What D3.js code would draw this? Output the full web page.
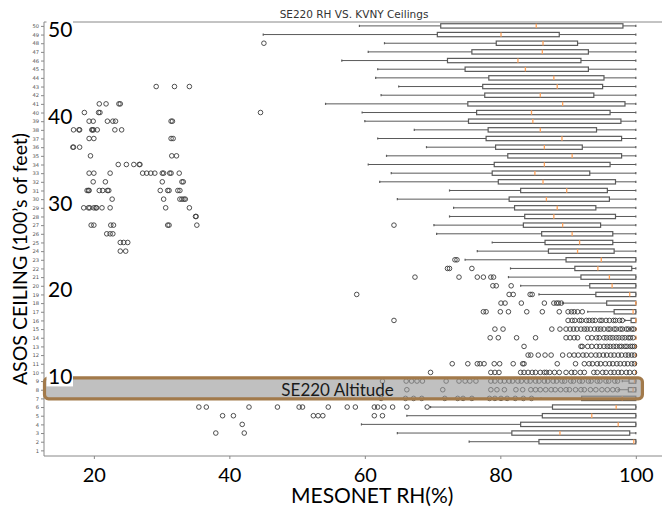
<!DOCTYPE html>
<html><head><meta charset="utf-8">
<script src="https://cdn.jsdelivr.net/npm/d3@7"></script>
<style>body{margin:0;background:#fff}svg{display:block}</style>
</head><body>
<svg id="c" width="662" height="508"></svg>
<script>
// ---- DATA ----
const ceilingTicks = [1,2,3,4,5,6,7,8,9,10,11,12,13,14,15,16,17,18,19,20,21,22,23,24,25,26,27,28,29,30,31,32,33,34,35,36,37,38,39,40,41,42,43,44,45,46,47,48,49,50];
const rhTicks = [20,40,60,80,100];
const bigLabels = [10,20,30,40,50];
// categories with a box (ceiling, 100's of feet)
const boxCats = [2,3,4,5,6,7,8,9, 10,11,12,13,14,15, 16,17,18,19,20,21,22,23,24,25, 26,27,28,29,30,31,32,33,34,35, 36,37,38,39,40,41,42,43,44,45, 46,47,48,49,50];
const whiskLo = [75.4,64.8,59.5,66.2,69.7,86.0,97.4,98.0,
  100,100,100,100,100,100,
  98.4,92.9,89.2,85.7,83.0,81.2,81.5,74.8,76.6,78.8,
  70.6,70.2,72.5,73.1,64.8,72.5,62.2,63.9,60.5,63.2,
  69.1,61.9,67.3,60.0,59.6,54.2,62.4,65.0,61.6,61.9,
  56.6,60.5,62.9,45.0,59.2];
const q1 = [85.7,81.7,83.0,86.2,87.7,92.0,98.9,99.0,
  100,100,100,100,100,100,
  99.3,96.8,95.7,94.1,93.2,91.9,91.0,89.7,87.1,86.6,
  86.1,83.4,83.6,82.1,81.3,83.0,79.7,78.8,79.1,81.1,
  79.3,77.9,78.2,75.3,76.5,75.2,77.7,77.4,78.3,74.8,
  72.2,75.8,79.4,70.7,71.2];
const medians = [99.7,88.8,97.4,93.5,97.1,98.0,99.6,99.8,
  100,100,100,100,100,100,
  100,99.6,100,99.1,96.5,96.1,94.4,94.9,91.4,91.7,
  90.6,89.2,87.9,88.4,86.8,89.8,86.3,85.1,86.5,90.6,
  86.5,89.1,85.9,84.8,84.6,89.2,85.9,88.4,87.9,83.7,
  82.6,86.2,86.3,80.1,85.3];
const q3 = [100,99.1,100,100,100,100,100,100,
  100,100,100,100,100,100,
  100,100,100,100,100,100,99.4,100,96.8,96.6,
  96.6,94.8,97.0,94.1,96.1,95.8,97.0,93.2,96.2,97.9,
  92.1,97.9,94.2,97.8,96.2,98.4,93.8,95.1,95.3,93.0,
  91.9,93.0,91.4,88.7,98.1];
const whiskHi = [100,100,100,100,100,100,100,100,
  100,100,100,100,100,100,
  100,100,100,100,100,100,100,100,100,100,
  100,100,100,100,100,100,100,100,100,100,
  100,100,100,100,100,100,100,100,100,100,
  100,100,100,100,100];
// outliers per category
const outlierCats = [3,4,5,6,7,8,9,10,11,12,13,14,15,16,17,18,19,20,21,22,23,24,25,26,27,28,29,30,31,32,33,34,35,36,37,38,39,40,41,43,48];
const outlierVals = [
 [38.0,42.2],
 [41.9],
 [39.0,40.6,52.4,53.1,53.8,61.4,62.6],
 [35.5,36.6,42.9,47.1,50.3,50.8,54.6,57.4,58.6,61.4,61.9,62.8,64.1,66.2,69.2],
 [62.4,66.0,67.2,68.4,71.8,73.7,74.5,75.8,78.4,79.2,80.1,81.0,82.2,83.4,84.6],
 [66.2,71.5,78.6,79.5,80.6,82.3,83.3,84.5,85.2,85.9,86.7,87.5,88.1,88.9,89.7,90.2,91.1,91.9,92.4,93.3,94.1,95.0,95.8,96.6,97.3],
 [62.6,66.1,66.9,67.7,68.5,72.0,73.9,74.8,75.5,76.4,78.6,79.2,80.0,80.6,81.3,81.8,82.6,83.1,83.9,84.4,85.2,85.7,86.5,87.0,87.8,88.3,89.1,89.5,90.4,90.8,91.7,92.1,93.0,93.4,94.3,94.7,95.6,96.0,96.9,97.3],
 [69.7,78.6,79.2,79.8,83.0,83.5,84.1,84.7,85.2,85.9,86.5,86.8,87.3,88.0,88.7,89.7,90.5,91.0,91.8,92.4,93.8,94.3,95.1,95.6,96.3,96.8,97.4,97.9,98.6,99.1,99.8],
 [72.9,75.2,76.6,77.0,77.6,79.1,79.9,81.9,83.3,83.5,88.4,91.1,92.4,93.1,93.6,94.3,94.8,95.5,96.1,96.6,97.2,97.7,98.3,98.8,99.4,99.8],
 [84.1,84.5,85.6,86.6,87.5,89.2,90.2,90.9,91.5,92.2,92.7,93.4,94.1,94.6,95.2,95.7,96.3,96.8,97.4,97.9,98.5,98.9,99.4,99.8],
 [83.5,91.9,92.1,92.9,93.5,94.2,94.7,95.3,95.8,96.2,96.7,97.1,97.6,97.9,98.4,98.7,99.2,99.5,99.8],
 [78.5,79.7,82.4,85.2,89.7,90.3,90.9,91.4,92.9,93.5,94.2,94.6,95.3,95.7,96.2,96.6,97.1,97.5,98.0,98.4,98.9,99.2,99.6],
 [79.2,80.4,87.6,88.8,89.7,90.3,90.8,91.3,91.9,92.4,92.8,93.3,93.9,94.4,94.8,95.3,95.9,96.2,96.8,97.1,97.7,98.0,98.6,98.9,99.4,99.7],
 [64.3,90.0,90.6,91.0,91.7,92.0,92.7,93.1,93.6,94.0,94.7,95.0,95.6,96.1,96.7,97.0,97.6,98.0],
 [77.5,77.9,80.0,81.2,83.9,86.2,88.7,90.0,90.5,90.9,91.4,92.1],
 [80.1,80.7,83.1,86.5,87.9,88.3,88.6,89.0],
 [58.8,81.3,81.9,84.4,84.7],
 [78.9,79.4,81.6],
 [67.4,73.9,76.6,77.5,78.6,79.0],
 [72.2,72.5,75.8],
 [73.3,73.6],
 [23.9,24.7],
 [23.9,24.4,25.0],
 [21.9,22.4,22.8],
 [19.6,20.0,22.5,22.9,30.9,31.1,35.2,64.3],
 [35.0,35.1],
 [18.5,19.2,19.4,20.0,20.3,20.4,21.2,22.4,30.6,34.1],
 [22.7,30.3,32.7,33.0,33.3,33.5],
 [19.0,19.2,19.3,20.8,21.3,22.0,22.2,29.8,30.9,31.1,32.4,32.7],
 [19.9,21.7,30.1,33.0,33.2],
 [19.3,20.0,22.4,27.2,27.8,28.4,29.0,30.1,30.3,31.2,31.4,32.6],
 [23.6,24.8,25.9,26.7,26.8],
 [19.5,31.5,32.2],
 [16.9,17.0,17.9],
 [19.3,20.0,31.4,31.7],
 [17.0,17.8,17.9,19.7,19.8,19.95,20.5,23.1,24.1],
 [19.3,19.9,22.0,22.8,23.2,31.4,31.6],
 [18.6,20.7,20.9,44.6],
 [20.8,21.8,23.7,23.9],
 [29.2,31.9,34.1],
 [45.1]
];
const altitudeCats = [7,9]; // SE220 altitude band (ceiling range)

// ---- CHART ----
const svg = d3.select("#c");
const L = 44, R = 664, T = 22, B = 456;
const x = d3.scaleLinear().domain([12.64, 104.16]).range([L, R]);
const y = d3.scaleLinear().domain([0.35, 50.45]).range([B, T]);
const bw = (y(0) - y(0.5)) / 2;
const cw = (y(0) - y(0.25)) / 2;

const g = svg.append("g");
const boxes = boxCats.map((c, i) => ({c, lo: whiskLo[i], q1: q1[i], med: medians[i], q3: q3[i], hi: whiskHi[i]}));
const grey = "#5a5a5a";
g.selectAll(".wl").data(boxes).join("line")
  .attr("x1", d => x(d.lo)).attr("x2", d => x(d.q1))
  .attr("y1", d => y(d.c)).attr("y2", d => y(d.c))
  .attr("stroke", grey).attr("stroke-width", 1);
g.selectAll(".wh").data(boxes).join("line")
  .attr("x1", d => x(d.q3)).attr("x2", d => x(d.hi))
  .attr("y1", d => y(d.c)).attr("y2", d => y(d.c))
  .attr("stroke", grey).attr("stroke-width", 1);
["lo","hi"].forEach(k => {
  g.selectAll(".cap"+k).data(boxes).join("line")
    .attr("x1", d => x(d[k])).attr("x2", d => x(d[k]))
    .attr("y1", d => y(d.c) - cw).attr("y2", d => y(d.c) + cw)
    .attr("stroke", grey).attr("stroke-width", 1.2);
});
g.selectAll(".box").data(boxes).join("rect")
  .attr("x", d => x(d.q1)).attr("width", d => Math.max(0, x(d.q3) - x(d.q1)))
  .attr("y", d => y(d.c) - bw).attr("height", 2 * bw)
  .attr("fill", "#fff").attr("stroke", grey).attr("stroke-width", 1.2);
g.selectAll(".med").data(boxes).join("line")
  .attr("x1", d => x(d.med)).attr("x2", d => x(d.med))
  .attr("y1", d => y(d.c) - bw).attr("y2", d => y(d.c) + bw)
  .attr("stroke", "#ffa25a").attr("stroke-width", 1.3);
const pts = [];
outlierCats.forEach((c, i) => outlierVals[i].forEach(v => pts.push({c, v})));
g.selectAll(".fl").data(pts).join("circle")
  .attr("cx", d => x(d.v)).attr("cy", d => y(d.c)).attr("r", 2.3)
  .attr("fill", "none").attr("stroke", "#3c3c3c").attr("stroke-width", 0.9);

// spines
svg.append("line").attr("x1", L).attr("x2", R).attr("y1", T).attr("y2", T).attr("stroke", "#888");
svg.append("line").attr("x1", L).attr("x2", R).attr("y1", B).attr("y2", B).attr("stroke", "#888");
svg.append("line").attr("x1", L).attr("x2", L).attr("y1", T).attr("y2", B).attr("stroke", "#888");

// axes
const ya = svg.append("g").attr("transform", `translate(${L},0)`)
  .call(d3.axisLeft(y).tickValues(ceilingTicks).tickSize(3).tickPadding(2).tickFormat(d3.format("d")));
ya.select(".domain").remove();
ya.selectAll("line").attr("stroke", "#888");
ya.selectAll("text").attr("font-size", 5.2).attr("font-family", "DejaVu Sans").attr("fill", "#555");
const xa = svg.append("g").attr("transform", `translate(0,${B})`)
  .call(d3.axisBottom(x).tickValues(rhTicks).tickSize(3).tickPadding(9));
xa.select(".domain").remove();
xa.selectAll("line").attr("stroke", "#888");
xa.selectAll("text").attr("font-size", 20).attr("font-family", "Lato").attr("fill", "#000");

// SE220 altitude band
const bandTop = y(altitudeCats[1]) - 3.2, bandBot = y(altitudeCats[0]) + 0.4;
svg.append("rect").attr("x", L + 0.5).attr("y", bandTop).attr("width", x(100.9) - L)
  .attr("height", bandBot - bandTop).attr("rx", 4)
  .attr("fill", "#999").attr("fill-opacity", 0.62)
  .attr("stroke", "#a27a4b").attr("stroke-width", 3.2);
svg.append("text").attr("x", x(40) + 52).attr("y", bandBot - 3)
  .attr("font-family", "Lato").attr("font-size", 17).attr("fill", "#1a1a1a")
  .text("SE220 Altitude");

// big labels with white backgrounds
const bl = svg.append("g");
bigLabels.forEach(v => {
  const cy = y(v) + 4;
  bl.append("rect").attr("x", 46.5).attr("y", cy - 11).attr("width", 26.5).attr("height", 21).attr("fill", "#fff");
  bl.append("text").attr("x", 48).attr("y", cy).attr("dy", "0.36em")
    .attr("font-family", "Lato").attr("font-size", 21).attr("fill", "#000").text(v);
});

// titles
svg.append("text").attr("x", 354).attr("y", 18).attr("text-anchor", "middle")
  .attr("font-family", "DejaVu Sans").attr("font-size", 10.5).attr("fill", "#333")
  .text("SE220 RH VS. KVNY Ceilings");
svg.append("text").attr("x", 291).attr("y", 503)
  .attr("font-family", "Lato").attr("font-size", 21).attr("fill", "#000")
  .text("MESONET RH(%)");
svg.append("text").attr("transform", "translate(27,259) rotate(-90)").attr("text-anchor", "middle")
  .attr("font-family", "Lato").attr("font-size", 19.5).attr("fill", "#000")
  .text("ASOS CEILING (100’s of feet)");
</script>
</body></html>
